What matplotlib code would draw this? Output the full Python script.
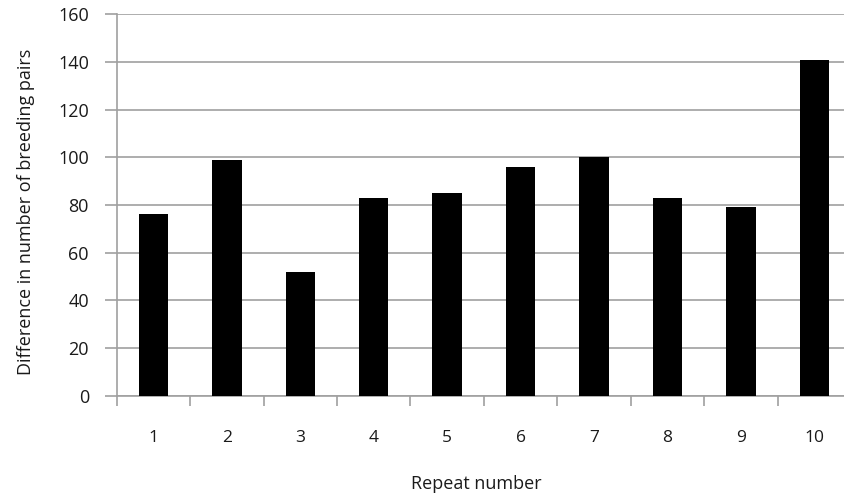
import matplotlib
matplotlib.use('Agg')
import matplotlib.pyplot as plt
import numpy as np

# data
repeats = ['1', '2', '3', '4', '5', '6', '7', '8', '9', '10']
diff_pairs = [76, 99, 52, 83, 85, 96, 100, 83, 79, 141]
y_ticks = [0, 20, 40, 60, 80, 100, 120, 140, 160]

plt.rcParams['font.family'] = ['Open Sans', 'DejaVu Sans']

fig = plt.figure(figsize=(8.44, 4.98), dpi=100)
# plot area: left 116.7px, right ~851px (runs off the image), top 14px, bottom 395px
ax = fig.add_axes([116.7 / 844, 1 - 395.5 / 498, (851 - 116.7) / 844, (395.5 - 14.3) / 498])

x = np.arange(len(repeats))
ax.bar(x, diff_pairs, width=0.4, color='black', zorder=3)

ax.set_xlim(-0.5, len(repeats) - 0.5)
ax.set_ylim(0, 160)
ax.set_yticks(y_ticks)
ax.yaxis.grid(True, color='#a0a0a0', linewidth=1.2, zorder=0)

# category labels centred, tick marks at the category boundaries
ax.set_xticks(x)
ax.set_xticklabels(repeats)
ax.set_xticks(np.arange(-0.5, len(repeats), 1), minor=True)
ax.tick_params(axis='x', which='major', length=0, pad=25, labelsize=12.5, colors='#1a1a1a')
ax.tick_params(axis='x', which='minor', length=7, width=1.2, color='#a0a0a0')
ax.tick_params(axis='y', length=9, width=1.2, color='#a0a0a0', pad=11, labelsize=13,
               labelcolor='#1a1a1a')

for s in ['top', 'right']:
    ax.spines[s].set_visible(False)
for s in ['left', 'bottom']:
    ax.spines[s].set_color('#a0a0a0')
    ax.spines[s].set_linewidth(1.2)

fig.text(26 / 844, 1 - 212 / 498, 'Difference in number of breeding pairs', rotation=90,
         ha='center', va='center', fontsize=13, color='#1a1a1a')
fig.text(476 / 844, 1 - 484 / 498, 'Repeat number', ha='center', va='center',
         fontsize=13, color='#1a1a1a')

plt.savefig('out.png', dpi=100)
